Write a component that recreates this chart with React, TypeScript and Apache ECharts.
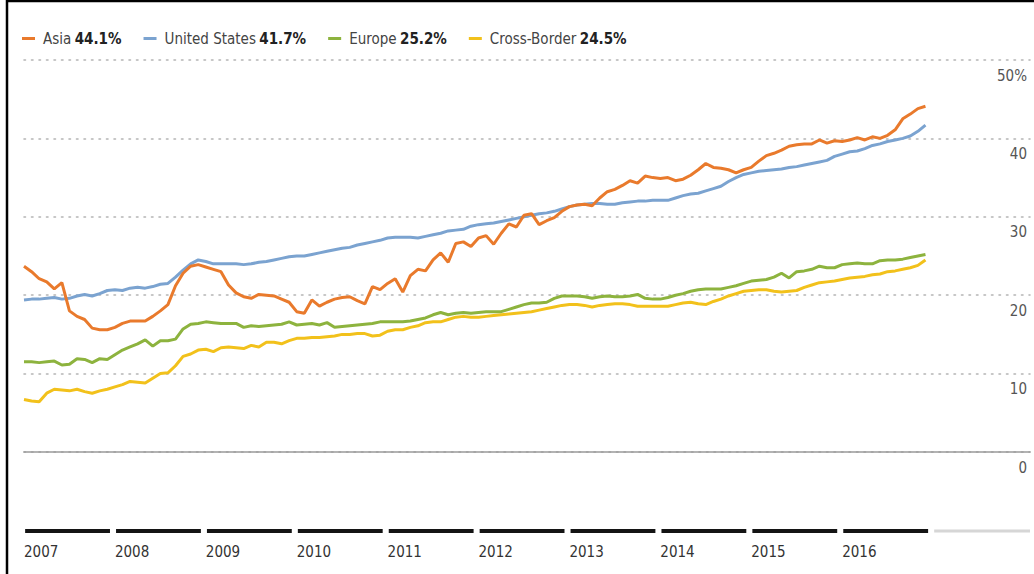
import React, { useEffect, useRef } from "react";
import * as echarts from "echarts";

// ---- data ----
const seriesNames = ["Asia", "United States", "Europe", "Cross-Border"];
const latestValues = ["44.1%", "41.7%", "25.2%", "24.5%"];
const seriesColors = ["#E97A2C", "#7BA3D0", "#8DB33E", "#F2C11B"];
const yearLabels = ["2007", "2008", "2009", "2010", "2011", "2012", "2013", "2014", "2015", "2016"];
const barYears = [...yearLabels, "2017"];
const yTicks = [0, 10, 20, 30, 40, 50];

// monthly values, Jan 2007 .. Dec 2016 (%)
const asia = [
  23.7, 23.0, 22.1, 21.7, 20.8, 21.6, 18.0, 17.3, 16.9, 15.8, 15.6, 15.6,
  15.9, 16.4, 16.7, 16.7, 16.7, 17.3, 18.0, 18.8, 21.2, 22.8, 23.7, 23.9,
  23.6, 23.3, 23.0, 21.3, 20.3, 19.8, 19.6, 20.1, 20.0, 19.9, 19.5, 19.1,
  17.9, 17.7, 19.4, 18.6, 19.1, 19.5, 19.7, 19.8, 19.3, 18.9, 21.1, 20.7,
  21.5, 22.1, 20.4, 22.5, 23.3, 23.1, 24.5, 25.4, 24.2, 26.6, 26.8, 26.2,
  27.3, 27.6, 26.5, 27.9, 29.1, 28.7, 30.2, 30.4, 29.0, 29.5, 29.9, 30.7,
  31.3, 31.5, 31.6, 31.4, 32.4, 33.2, 33.5, 34.0, 34.6, 34.3, 35.2, 35.0,
  34.9, 35.0, 34.6, 34.8, 35.3, 36.0, 36.8, 36.3, 36.2, 36.0, 35.6, 36.0,
  36.3, 37.1, 37.8, 38.1, 38.5, 39.0, 39.2, 39.3, 39.3, 39.8, 39.4, 39.7,
  39.6, 39.8, 40.1, 39.8, 40.2, 40.0, 40.4, 41.1, 42.5, 43.1, 43.8, 44.1,
];
const unitedStates = [
  19.4, 19.5, 19.5, 19.6, 19.7, 19.5, 19.6, 19.9, 20.1, 19.9, 20.2, 20.6,
  20.7, 20.6, 20.9, 21.0, 20.9, 21.1, 21.4, 21.5, 22.3, 23.2, 24.0, 24.5,
  24.3, 24.0, 24.0, 24.0, 24.0, 23.9, 24.0, 24.2, 24.3, 24.5, 24.7, 24.9,
  25.0, 25.0, 25.2, 25.4, 25.6, 25.8, 26.0, 26.1, 26.4, 26.6, 26.8, 27.0,
  27.3, 27.4, 27.4, 27.4, 27.3, 27.5, 27.7, 27.9, 28.2, 28.3, 28.4, 28.8,
  29.0, 29.1, 29.2, 29.4, 29.6, 29.8, 30.0, 30.2, 30.4, 30.5, 30.7, 31.0,
  31.3, 31.5, 31.6, 31.7, 31.7, 31.6, 31.6, 31.8, 31.9, 32.0, 32.0, 32.1,
  32.1, 32.1, 32.4, 32.7, 32.9, 33.0, 33.3, 33.6, 33.9, 34.5, 35.0, 35.4,
  35.6, 35.8, 35.9, 36.0, 36.1, 36.3, 36.4, 36.6, 36.8, 37.0, 37.2, 37.7,
  38.0, 38.3, 38.4, 38.7, 39.1, 39.3, 39.6, 39.8, 40.0, 40.3, 40.9, 41.7,
];
const europe = [
  11.5, 11.5, 11.4, 11.5, 11.6, 11.1, 11.2, 11.9, 11.8, 11.4, 11.9, 11.8,
  12.4, 13.0, 13.4, 13.8, 14.3, 13.5, 14.2, 14.2, 14.4, 15.7, 16.3, 16.4,
  16.6, 16.5, 16.4, 16.4, 16.4, 15.9, 16.1, 16.0, 16.1, 16.2, 16.3, 16.6,
  16.2, 16.3, 16.4, 16.2, 16.5, 15.9, 16.0, 16.1, 16.2, 16.3, 16.4, 16.6,
  16.6, 16.6, 16.6, 16.7, 16.9, 17.1, 17.5, 17.8, 17.5, 17.7, 17.8, 17.7,
  17.8, 17.9, 17.9, 17.9, 18.2, 18.5, 18.8, 19.0, 19.0, 19.1, 19.6, 19.9,
  19.9, 19.9, 19.8, 19.6, 19.8, 19.9, 19.8, 19.8, 19.9, 20.1, 19.6, 19.5,
  19.5, 19.7, 20.0, 20.2, 20.5, 20.7, 20.8, 20.8, 20.8, 21.0, 21.2, 21.5,
  21.8, 21.9, 22.0, 22.3, 22.8, 22.2, 23.0, 23.1, 23.3, 23.7, 23.5, 23.5,
  23.9, 24.0, 24.1, 24.0, 24.0, 24.4, 24.5, 24.5, 24.6, 24.8, 25.0, 25.2,
];
const crossBorder = [
  6.7, 6.5, 6.4, 7.5, 8.0, 7.9, 7.8, 8.0, 7.7, 7.5, 7.8, 8.0,
  8.3, 8.6, 9.0, 8.9, 8.8, 9.4, 10.0, 10.1, 11.0, 12.2, 12.5, 13.0,
  13.1, 12.8, 13.3, 13.4, 13.3, 13.2, 13.6, 13.4, 14.0, 14.0, 13.8, 14.2,
  14.5, 14.5, 14.6, 14.6, 14.7, 14.8, 15.0, 15.0, 15.1, 15.1, 14.8, 14.9,
  15.4, 15.6, 15.6, 15.9, 16.1, 16.5, 16.6, 16.6, 16.9, 17.2, 17.3, 17.2,
  17.2, 17.3, 17.4, 17.5, 17.6, 17.7, 17.8, 17.9, 18.1, 18.3, 18.5, 18.7,
  18.8, 18.8, 18.7, 18.5, 18.7, 18.8, 18.9, 18.9, 18.8, 18.6, 18.6, 18.6,
  18.6, 18.6, 18.8, 19.0, 19.1, 18.9, 18.8, 19.2, 19.5, 19.9, 20.2, 20.5,
  20.6, 20.7, 20.7, 20.5, 20.4, 20.5, 20.6, 21.0, 21.3, 21.6, 21.7, 21.8,
  22.0, 22.2, 22.3, 22.4, 22.6, 22.7, 23.0, 23.1, 23.3, 23.5, 23.8, 24.5,
];
const seriesValues = [asia, unitedStates, europe, crossBorder];

const FONT = "'Liberation Sans Narrow', 'DejaVu Sans Condensed', 'Liberation Sans', sans-serif";
const X_MAX = 132.8; // months shown on the axis (incl. the partial final year)

export default function App() {
  const ref = useRef<HTMLDivElement>(null);

  useEffect(() => {
    if (!ref.current) return;
    const chart = echarts.init(ref.current, undefined, { renderer: "svg" });

    const valueByName: Record<string, string> = {};
    seriesNames.forEach((n, i) => (valueByName[n] = latestValues[i]));

    const lineSeries = seriesNames
      .map((name, i) => ({
        name,
        type: "line",
        xAxisIndex: 0,
        yAxisIndex: 0,
        symbol: "none",
        data: seriesValues[i].map((v, m) => [m, v]),
        lineStyle: { color: seriesColors[i], width: 3 },
        itemStyle: { color: seriesColors[i] },
        z: 10 - i,
      }))
      .reverse();

    chart.setOption({
      animation: false,
      backgroundColor: "#ffffff",
      textStyle: { fontFamily: FONT },
      legend: {
        left: 22,
        top: 31,
        padding: 0,
        icon: "rect",
        itemWidth: 13,
        itemHeight: 3,
        itemGap: 22,
        data: seriesNames,
        formatter: (name: string) => `{n|${name}} {v|${valueByName[name]}}`,
        textStyle: {
          fontFamily: FONT,
          rich: {
            n: { fontFamily: FONT, fontSize: 15, color: "#444", padding: [0, 0, 0, 3] },
            v: { fontFamily: FONT, fontSize: 15, color: "#222", fontWeight: "bold" },
          },
        },
      },
      grid: [
        { left: 24, right: 4, top: 60, bottom: 122 },
        { left: 24, right: 4, top: 526, height: 10 },
      ],
      xAxis: [
        {
          type: "value",
          gridIndex: 0,
          min: 0,
          max: X_MAX,
          interval: 12,
          axisLine: { show: true, lineStyle: { color: "#9a9a9a", width: 1.5 } },
          axisTick: { show: false },
          axisLabel: { show: false },
          splitLine: { show: false },
        },
        {
          type: "value",
          gridIndex: 1,
          min: 0,
          max: X_MAX,
          interval: 12,
          axisLine: { show: false },
          axisTick: { show: false },
          splitLine: { show: false },
          axisLabel: {
            show: true,
            align: "left",
            margin: 8,
            fontFamily: FONT,
            fontSize: 15,
            color: "#333",
            showMaxLabel: false,
            formatter: (v: number) => {
              const idx = Math.round(v / 12);
              return idx < yearLabels.length ? yearLabels[idx] : "";
            },
          },
        },
      ],
      yAxis: [
        {
          type: "value",
          gridIndex: 0,
          position: "right",
          min: yTicks[0],
          max: yTicks[yTicks.length - 1],
          interval: 10,
          axisLine: { show: false },
          axisTick: { show: false },
          splitLine: {
            show: true,
            lineStyle: { color: "#b4b4b4", width: 1.6, type: [1.5, 6], cap: "round" },
          },
          axisLabel: {
            inside: true,
            margin: 3,
            fontFamily: FONT,
            fontSize: 15,
            color: "#555",
            verticalAlign: "top",
            padding: [8, 0, 0, 0],
            formatter: (v: number) => (v === 50 ? "50%" : String(v)),
          },
        },
        {
          type: "value",
          gridIndex: 1,
          min: 0,
          max: 1,
          show: false,
        },
      ],
      series: [
        ...lineSeries,
        {
          type: "custom",
          xAxisIndex: 1,
          yAxisIndex: 1,
          silent: true,
          clip: false,
          data: barYears.map((y, i) => [i, i === barYears.length - 1 ? 1 : 0]),
          renderItem: (params: any, api: any) => {
            const idx = api.value(0);
            const partial = api.value(1) === 1;
            const start = idx * 12 + 0.15;
            const end = partial ? X_MAX : idx * 12 + 11.35;
            const p1 = api.coord([start, 0.5]);
            const p2 = api.coord([end, 0.5]);
            const h = partial ? 3 : 4;
            return {
              type: "rect",
              shape: { x: p1[0], y: p1[1] - h / 2, width: p2[0] - p1[0], height: h },
              style: { fill: partial ? "#d6d6d6" : "#141414" },
            };
          },
        },
      ],
      graphic: [
        {
          type: "line",
          shape: { x1: 7, y1: 0, x2: 7, y2: 574 },
          style: { stroke: "#000", lineWidth: 2.5 },
        },
        {
          type: "line",
          shape: { x1: 6, y1: 1, x2: 1034, y2: 1 },
          style: { stroke: "#000", lineWidth: 2.5 },
        },
      ],
    });

    return () => chart.dispose();
  }, []);

  return (
    <div
      ref={ref}
      style={{ position: "absolute", left: 0, top: 0, width: 1034, height: 574 }}
    />
  );
}
